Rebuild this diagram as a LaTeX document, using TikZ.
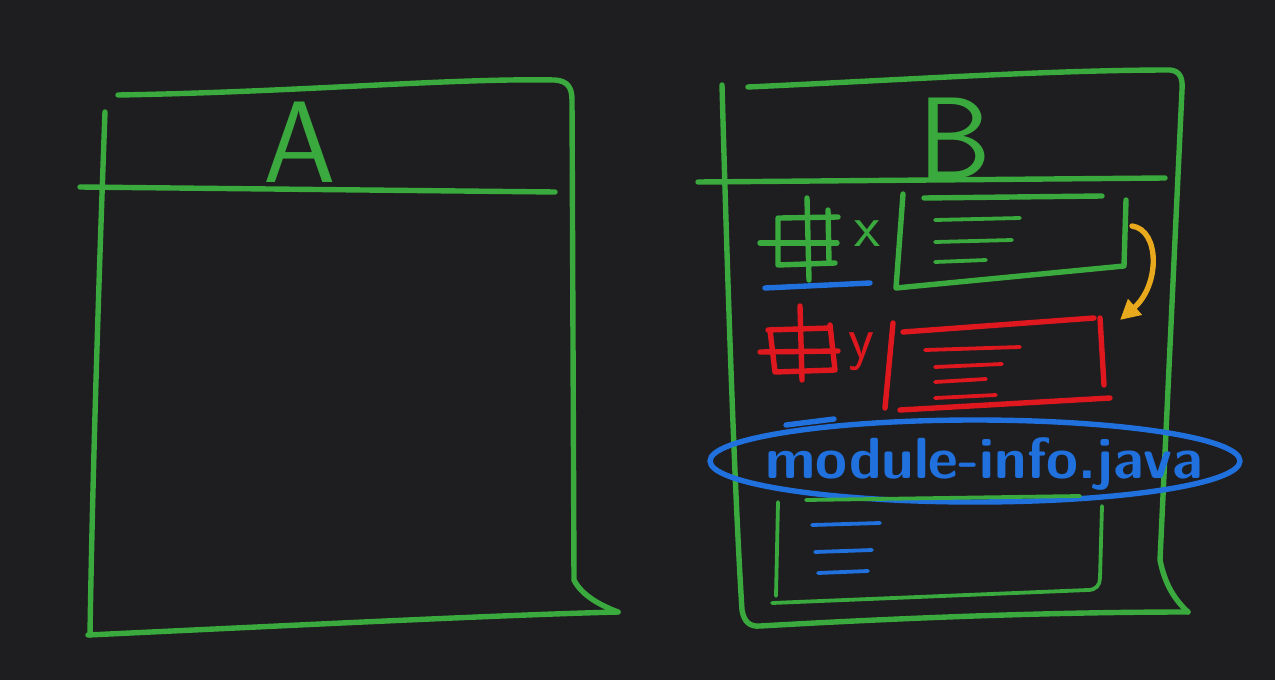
\documentclass[tikz,border=0pt]{standalone}
\usetikzlibrary{arrows.meta}
\definecolor{bgc}{RGB}{30,30,32}
\definecolor{grn}{RGB}{58,170,62}
\definecolor{redc}{RGB}{222,24,30}
\definecolor{bluc}{RGB}{32,112,222}
\definecolor{yelc}{RGB}{232,170,28}
\tikzset{
  pen/.style={line width=2.7pt,line cap=round,line join=round},
  fine/.style={line width=1.9pt,line cap=round,line join=round},
  big/.style={font=\sffamily\fontsize{58}{58}\selectfont,inner sep=0pt},
  mid/.style={font=\sffamily\fontsize{30}{30}\selectfont,inner sep=0pt},
  hand/.style={font=\sffamily\bfseries\fontsize{29}{29}\selectfont,inner sep=0pt},
}
\begin{document}
\begin{tikzpicture}[x=0.5pt,y=-0.5pt]
\fill[bgc] (0,0) rectangle (1275,680);
\useasboundingbox (0,0) rectangle (1275,680);
% ================= Box A =================
\draw[pen,grn] (105,112) .. controls (98,300) and (92,500) .. (90,635);
\draw[pen,grn] (118,95) .. controls (300,92) and (450,78) .. (555,80) .. controls (568,81) and (572,88) .. (572,100) -- (574,580) .. controls (582,596) and (602,606) .. (618,612);
\draw[pen,grn] (88,635) .. controls (300,625) and (500,615) .. (618,612);
\draw[pen,grn] (80,187) -- (555,192);
\node[big,text=grn] (nameA) at (300,142) {A};
% ================= Box B =================
\draw[pen,grn] (748,87) .. controls (900,80) and (1050,70) .. (1170,70) .. controls (1180,71) and (1183,78) .. (1182,90) -- (1160,560) .. controls (1165,585) and (1175,600) .. (1188,612);
\draw[pen,grn] (722,85) .. controls (728,300) and (735,500) .. (742,610) .. controls (744,622) and (750,627) .. (760,626) .. controls (900,618) and (1050,612) .. (1188,612);
\draw[pen,grn] (698,182) -- (1165,178);
\node[big,text=grn] (nameB) at (955,138) {B};
% green package + class
\draw[pen,grn] (807,198) -- (809,280);
\draw[pen,grn] (780,218) -- (838,217);
\draw[pen,grn] (760,243) -- (837,243);
\draw[pen,grn] (778,218) -- (778,265) -- (835,263);
\draw[pen,grn] (828,210) -- (829,262);
\draw[pen,bluc] (765,288) -- (870,283);
\node[mid,text=grn] (labX) at (867,234) {x};
\draw[pen,grn] (903,194) -- (896,288) -- (1124,266) -- (1126,200);
\draw[pen,grn] (924,198) -- (1102,196);
\foreach \ya/\xb in {220/1020, 242/1012, 262/986}{
  \draw[fine,grn] (935,\ya) -- (\xb,\ya-2);
}
% red package + class
\draw[pen,redc] (800,306) -- (802,380);
\draw[pen,redc] (768,330) -- (830,328);
\draw[pen,redc] (760,352) -- (838,351);
\draw[pen,redc] (770,330) -- (775,372) -- (835,370) -- (830,325);
\node[mid,text=redc] (labY) at (861,352) {y};
\draw[pen,redc] (893,323) -- (885,408);
\draw[pen,redc] (903,332) -- (1094,318);
\draw[pen,redc] (1100,318) -- (1104,385);
\draw[pen,redc] (900,410) -- (1110,398);
\foreach \ya/\xa/\xb in {350/925/1020, 367/935/1002, 382/935/986, 398/935/996}{
  \draw[fine,redc] (\xa,\ya) -- (\xb,\ya-3);
}
% yellow arrow between the classes
\draw[pen,yelc,-{Triangle[length=10pt,width=10pt]}] (1132,226) .. controls (1160,230) and (1160,285) .. (1120,320);
% module-info.java
\draw[pen,bluc] (975,461) ellipse [x radius=265,y radius=41];
\draw[pen,bluc] (786,425) -- (834,419);
\node[hand,text=bluc] (modInfo) at (984,464) {module-info.java};
% lower box
\draw[fine,grn] (806,500) -- (1080,496);
\draw[fine,grn] (778,502) -- (776,596);
\draw[fine,grn] (772,603) -- (1088,590) .. controls (1096,590) and (1100,585) .. (1100,578) -- (1102,506);
\foreach \ya/\xa/\xb in {525/812/880, 552/815/872, 573/818/868}{
  \draw[fine,bluc] (\xa,\ya) -- (\xb,\ya-2);
}
\end{tikzpicture}
\end{document}
